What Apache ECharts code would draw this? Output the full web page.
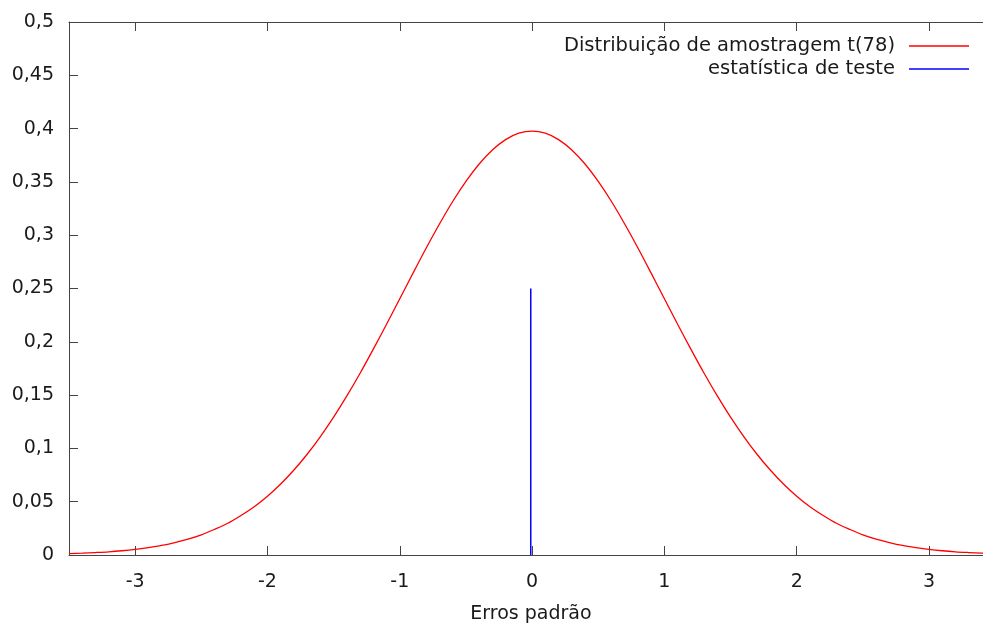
<!DOCTYPE html>
<html>
<head>
<meta charset="utf-8">
<script src="https://cdn.jsdelivr.net/npm/echarts@6/dist/echarts.min.js"></script>
<style>
html,body{margin:0;padding:0;background:#fff;}
#chart{width:983px;height:624px;}
</style>
</head>
<body>
<div id="chart"></div>
<script>
// Data (x in standard errors, y density)
const halfX = [0,0.1,0.2,0.3,0.4,0.5,0.6,0.7,0.8,0.9,1.0,1.1,1.2,1.3,1.4,1.5,1.6,1.7,1.8,1.9,2.0,2.1,2.2,2.3,2.4,2.5,2.6,2.7,2.8,2.9,3.0,3.1,3.2,3.3,3.4,3.5];
const halfY = [0.3977,0.3957,0.3897,0.3800,0.3668,0.3505,0.3316,0.3105,0.2880,0.2644,0.2404,0.2165,0.1931,0.1705,0.1492,0.1293,0.1111,0.0945,0.0797,0.0666,0.0552,0.0453,0.0371,0.0298,0.0241,0.0189,0.0149,0.0117,0.0090,0.0070,0.0053,0.0040,0.0030,0.0023,0.0017,0.0013];
const statX = [-0.01, -0.01];
const statY = [0, 0.25];
const xTicks = [-3,-2,-1,0,1,2,3];
const seriesNames = ['Distribuição de amostragem t(78)', 'estatística de teste'];
const xName = 'Erros padrão';

// symmetric curve: left half mirrored from the read values
const curve = [];
for (let i = halfX.length - 1; i > 0; i--) curve.push([-halfX[i], halfY[i]]);
for (let i = 0; i < halfX.length; i++) curve.push([halfX[i], halfY[i]]);

const font = 'DejaVu Sans, sans-serif';
const fs = 19;
const chart = echarts.init(document.getElementById('chart'), null, {renderer:'canvas'});
const zip = (a,b) => a.map((v,i)=>[v,b[i]]);
const axisCol = '#444';

chart.setOption({
  animation:false,
  backgroundColor:'#fff',
  grid:{left:69, top:22, right:0, height:533, outerBoundsMode:'none', containLabel:false},
  legend:[
    {data:[seriesNames[0]], right:9, top:31, align:'right', itemWidth:60, itemHeight:1.5, icon:'rect',
     textStyle:{fontFamily:font, fontSize:19.5, color:'#1a1a1a', padding:[0,9,0,0]}},
    {data:[seriesNames[1]], right:9, top:54, align:'right', itemWidth:60, itemHeight:1.5, icon:'rect',
     textStyle:{fontFamily:font, fontSize:19.5, color:'#1a1a1a', padding:[0,9,0,0]}}
  ],
  xAxis:[
    {type:'value', min:-3.5, max:3.408, position:'bottom',
     name:xName, nameLocation:'middle', nameGap:50,
     nameTextStyle:{fontFamily:font, fontSize:fs, color:'#1a1a1a', padding:[0,0,0,10]},
     axisLine:{show:true, onZero:false, lineStyle:{color:axisCol, width:1}},
     axisTick:{show:true, inside:true, length:9, customValues:xTicks, lineStyle:{color:axisCol}},
     axisLabel:{customValues:xTicks, margin:18, fontFamily:font, fontSize:fs, color:'#1a1a1a'},
     splitLine:{show:false}},
    {type:'value', min:-3.5, max:3.408, position:'top',
     axisLine:{show:true, onZero:false, lineStyle:{color:axisCol, width:1}},
     axisTick:{show:true, inside:true, length:9, customValues:xTicks, lineStyle:{color:axisCol}},
     axisLabel:{show:false},
     splitLine:{show:false}}
  ],
  yAxis:{type:'value', min:0, max:0.5, interval:0.05,
     axisLine:{show:true, onZero:false, lineStyle:{color:axisCol, width:1}},
     axisTick:{show:true, inside:true, length:9, lineStyle:{color:axisCol}},
     axisLabel:{margin:15, fontFamily:font, fontSize:fs, color:'#1a1a1a',
       formatter:v=>String(+v.toFixed(2)).replace('.', ',')},
     splitLine:{show:false}},
  series:[
    {name:seriesNames[0], type:'line', data:curve, smooth:0.3,
     symbol:'none', showSymbol:false, lineStyle:{color:'#ff0000', width:1.3}, itemStyle:{color:'#ff0000'}},
    {name:seriesNames[1], type:'line', data:zip(statX,statY),
     symbol:'none', showSymbol:false, lineStyle:{color:'#0000ff', width:1.5}, itemStyle:{color:'#0000ff'}}
  ]
});
</script>
</body>
</html>
